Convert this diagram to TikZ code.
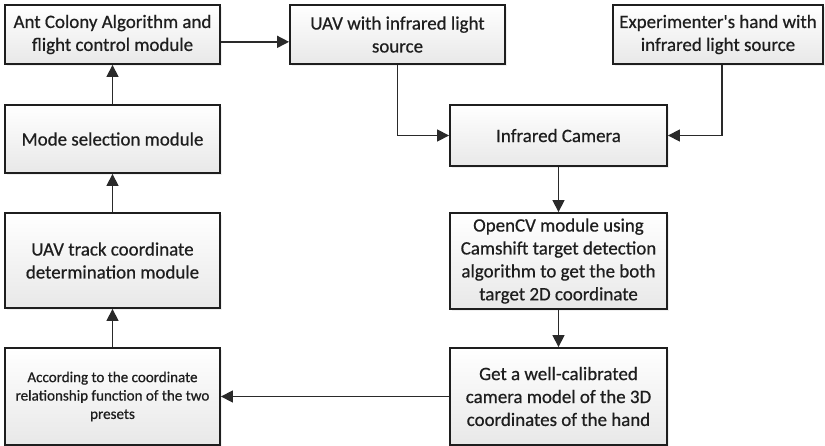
\documentclass[tikz,border=0pt]{standalone}
\usepackage{fontspec}
\setmainfont{Carlito}
\newfontfamily\boxfont{Carlito}[FakeBold=0.6]
\usetikzlibrary{arrows.meta,shadows,calc}
\definecolor{inkc}{HTML}{1E1E1E}
\definecolor{linec}{HTML}{2A2A2A}
\tikzset{
  px/.style={x=0.75pt,y=-0.75pt},
  blockbox/.style={draw=inkc, line width=1.4pt, rectangle, align=center,
    top color=white, bottom color=black!9, text=inkc,
    drop shadow={opacity=0.12, shadow xshift=1.5pt, shadow yshift=-1.5pt},
    font=\boxfont\fontsize{14.2}{17.2}\selectfont, inner sep=2pt},
  smalltext/.style={font=\boxfont\fontsize{11.3}{13.8}\selectfont},
  flow/.style={draw=linec, line width=1.2pt, -{Triangle[length=9pt,width=9pt]}},
}
\begin{document}
\begin{tikzpicture}[px]
  \useasboundingbox (0,0) rectangle (825,446);
  % left column
  \node[blockbox, minimum width=161.25pt, minimum height=44.25pt] (ant) at (112.5,34.5)
    {Ant Colony Algorithm and\\flight control module};
  \node[blockbox, minimum width=161.25pt, minimum height=51pt] (mode) at (112.5,139)
    {Mode selection module};
  \node[blockbox, minimum width=161.25pt, minimum height=71.25pt] (track) at (112.5,260.5)
    {UAV track coordinate\\determination module};
  \node[blockbox, smalltext, minimum width=161.25pt, minimum height=72.75pt] (acc) at (112.5,396.5)
    {According to the coordinate\\relationship function of the two\\presets};
  % top row
  \node[blockbox, minimum width=161.25pt, minimum height=44.25pt] (uav) at (397.5,34.5)
    {UAV with infrared light\\source};
  \node[blockbox, minimum width=157.5pt, minimum height=44.25pt] (hand) at (718,34.5)
    {Experimenter's hand with\\infrared light source};
  % right column
  \node[blockbox, minimum width=162.75pt, minimum height=45.75pt] (cam) at (558.5,135.5)
    {Infrared Camera};
  \node[blockbox, minimum width=162.75pt, minimum height=72pt] (cv) at (558.5,261)
    {OpenCV module using\\Camshift target detection\\algorithm to get the both\\target 2D coordinate};
  \node[blockbox, minimum width=162.75pt, minimum height=72.75pt] (calib) at (558.5,396.5)
    {Get a well-calibrated\\camera model of the 3D\\coordinates of the hand};
  % connectors
  \draw[flow] ([yshift=-5.5pt]ant.east) -- ([yshift=-5.5pt]uav.west);
  \draw[flow] (uav.south) |- (cam.west);
  \draw[flow] ([xshift=3pt]hand.south) |- (cam.east);
  \draw[flow] (cam.south) -- (cv.north);
  \draw[flow] (cv.south) -- (calib.north);
  \draw[flow] (calib.west) -- (acc.east);
  \draw[flow] (acc.north) -- (track.south);
  \draw[flow] (track.north) -- (mode.south);
  \draw[flow] (mode.north) -- (ant.south);
\end{tikzpicture}
\end{document}
